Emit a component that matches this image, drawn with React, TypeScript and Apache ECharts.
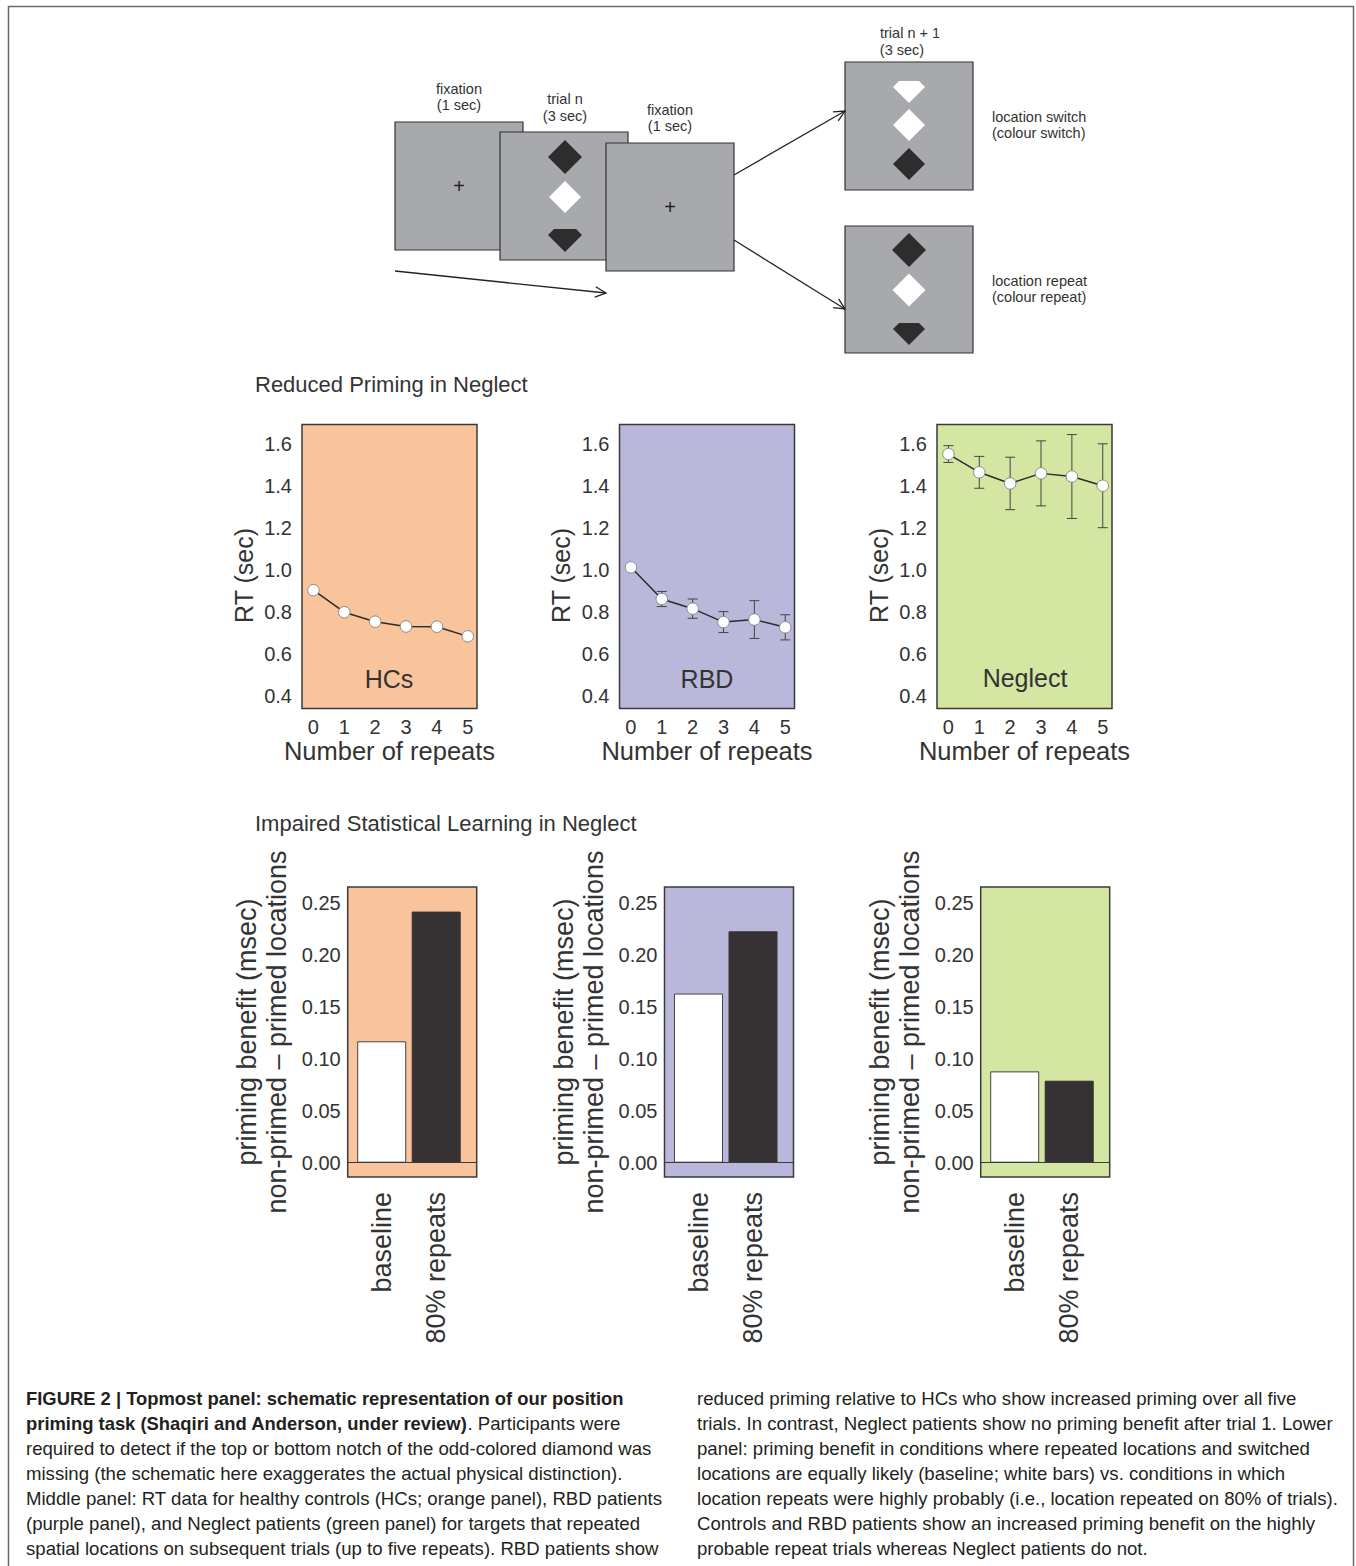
import React, { useEffect, useRef } from "react";
import * as echarts from "echarts";

// ---------------- data ----------------
const repeats = [0, 1, 2, 3, 4, 5];
const rtTicks = [0.4, 0.6, 0.8, 1.0, 1.2, 1.4, 1.6];
const groups = ["HCs", "RBD", "Neglect"];

const hcsRT = [0.905, 0.8, 0.755, 0.732, 0.731, 0.685];
const hcsErr = [0, 0, 0, 0, 0, 0];
const rbdRT = [1.014, 0.863, 0.817, 0.753, 0.765, 0.728];
const rbdErr = [0, 0.036, 0.046, 0.05, 0.09, 0.06];
const neglectRT = [1.554, 1.467, 1.414, 1.462, 1.447, 1.403];
const neglectErr = [0.04, 0.076, 0.125, 0.155, 0.2, 0.2];

const barCategories = ["baseline", "80% repeats"];
const benefitTicks = [0, 0.05, 0.1, 0.15, 0.2, 0.25];
const hcsBenefit = [0.117, 0.242];
const rbdBenefit = [0.163, 0.223];
const neglectBenefit = [0.088, 0.079];

const middleTitle = "Reduced Priming in Neglect";
const lowerTitle = "Impaired Statistical Learning in Neglect";
const rtAxisName = "RT (sec)";
const repeatsAxisName = "Number of repeats";
const benefitAxisName = "priming benefit (msec)\nnon-primed \u2013 primed locations";

const captionLeft: string[] = [
  "{b|FIGURE 2 | Topmost panel: schematic representation of our position}",
  "{b|priming task (Shaqiri and Anderson, under review)}{n|. Participants were}",
  "{n|required to detect if the top or bottom notch of the odd-colored diamond was}",
  "{n|missing (the schematic here exaggerates the actual physical distinction).}",
  "{n|Middle panel: RT data for healthy controls (HCs; orange panel), RBD patients}",
  "{n|(purple panel), and Neglect patients (green panel) for targets that repeated}",
  "{n|spatial locations on subsequent trials (up to five repeats). RBD patients show}",
];
const captionRight: string[] = [
  "reduced priming relative to HCs who show increased priming over all five",
  "trials. In contrast, Neglect patients show no priming benefit after trial 1. Lower",
  "panel: priming benefit in conditions where repeated locations and switched",
  "locations are equally likely (baseline; white bars) vs. conditions in which",
  "location repeats were highly probably (i.e., location repeated on 80% of trials).",
  "Controls and RBD patients show an increased priming benefit on the highly",
  "probable repeat trials whereas Neglect patients do not.",
];

// ---------------- styles / layout ----------------
const FONT = "'Liberation Sans', Arial, Helvetica, sans-serif";
const TXT = "#333333";
const panelColors = ["#F9C39B", "#B9B8DB", "#D4E6A1"];
const GRAY = "#A7A9AC";
const DARK = "#2E2C2D";

type Diamond = { cx: number; cy: number; h: number; cut?: number; fill: string };

function diamondPoints(d: Diamond): number[][] {
  const { cx, cy, h, cut } = d;
  if (cut === undefined) {
    return [
      [cx, cy - h],
      [cx + h, cy],
      [cx, cy + h],
      [cx - h, cy],
    ];
  }
  const w = h - cut;
  return [
    [cx - w, cy - cut],
    [cx + w, cy - cut],
    [cx + h, cy],
    [cx, cy + h],
    [cx - h, cy],
  ];
}

function arrow(x1: number, y1: number, x2: number, y2: number): any[] {
  const a = Math.atan2(y2 - y1, x2 - x1);
  const len = 12;
  const s = 0.45;
  const p1 = [x2 - len * Math.cos(a - s), y2 - len * Math.sin(a - s)];
  const p2 = [x2 - len * Math.cos(a + s), y2 - len * Math.sin(a + s)];
  return [
    { type: "line", shape: { x1, y1, x2, y2 }, style: { stroke: "#222", lineWidth: 1.3 } },
    { type: "polyline", shape: { points: [p1, [x2, y2], p2] }, style: { stroke: "#222", lineWidth: 1.3, fill: null } },
  ];
}

function schematic(): any[] {
  const els: any[] = [];
  const rects = [
    [395, 122, 128, 128],
    [500, 132, 128, 128],
    [606, 143, 128, 128],
    [845, 62, 128, 128],
    [845, 226, 128, 127],
  ];
  rects.forEach(([x, y, w, h]) =>
    els.push({ type: "rect", shape: { x, y, width: w, height: h }, style: { fill: GRAY, stroke: "#333", lineWidth: 1.2 } })
  );
  const diamonds: Diamond[] = [
    { cx: 565, cy: 157, h: 17, fill: DARK },
    { cx: 565, cy: 197, h: 16, fill: "#ffffff" },
    { cx: 565, cy: 235, h: 17, cut: 6, fill: DARK },
    { cx: 909, cy: 87, h: 16, cut: 6, fill: "#ffffff" },
    { cx: 909, cy: 125, h: 16, fill: "#ffffff" },
    { cx: 909, cy: 164, h: 16, fill: DARK },
    { cx: 909, cy: 250, h: 17, fill: DARK },
    { cx: 909, cy: 290, h: 16.5, fill: "#ffffff" },
    { cx: 909, cy: 329, h: 16, cut: 6, fill: DARK },
  ];
  diamonds.forEach((d) => els.push({ type: "polygon", shape: { points: diamondPoints(d) }, style: { fill: d.fill } }));
  [
    [459, 186],
    [670, 207],
  ].forEach(([x, y]) =>
    els.push({ type: "text", x, y, style: { text: "+", fontSize: 20, fontFamily: FONT, fill: "#222", align: "center", verticalAlign: "middle" } })
  );
  els.push(...arrow(395, 271, 606, 293));
  els.push(...arrow(734, 175, 845, 111));
  els.push(...arrow(734, 240, 845, 309));
  const labels: [string, number, number, string][] = [
    ["fixation", 459, 89, "center"],
    ["(1 sec)", 459, 105, "center"],
    ["trial n", 565, 99, "center"],
    ["(3 sec)", 565, 116, "center"],
    ["fixation", 670, 110, "center"],
    ["(1 sec)", 670, 126, "center"],
    ["trial n + 1", 910, 33, "center"],
    ["(3 sec)", 902, 50, "center"],
    ["location switch", 992, 117, "left"],
    ["(colour switch)", 992, 133, "left"],
    ["location repeat", 992, 281, "left"],
    ["(colour repeat)", 992, 297, "left"],
  ];
  labels.forEach(([t, x, y, al]) =>
    els.push({ type: "text", x, y, style: { text: t, fontSize: 14.5, fontFamily: FONT, fill: "#333", align: al, verticalAlign: "middle" } })
  );
  return els;
}

function buildOption(): any {
  const grid: any[] = [];
  const xAxis: any[] = [];
  const yAxis: any[] = [];
  const series: any[] = [];
  const graphic: any[] = [];

  const lineData = [
    { rt: hcsRT, err: hcsErr },
    { rt: rbdRT, err: rbdErr },
    { rt: neglectRT, err: neglectErr },
  ];
  const lineLefts = [302, 619.5, 937];
  const labelPos = [
    [389, 679],
    [707, 679],
    [1025, 678],
  ];

  lineData.forEach((g, i) => {
    grid.push({
      left: lineLefts[i], top: 424.5, width: 175, height: 284,
      show: true, backgroundColor: panelColors[i], borderColor: "#3a3a3a", borderWidth: 1.5,
      outerBoundsMode: "none",
    });
    xAxis.push({
      gridIndex: i, type: "value", min: -0.37, max: 5.3,
      axisLine: { show: false }, axisTick: { show: false }, splitLine: { show: false },
      axisLabel: { customValues: repeats, formatter: (v: number) => String(v), margin: 8, fontSize: 20, color: TXT, fontFamily: FONT },
      name: repeatsAxisName, nameLocation: "middle", nameGap: 29,
      nameTextStyle: { fontSize: 25.5, color: TXT, fontFamily: FONT },
    });
    yAxis.push({
      gridIndex: i, type: "value", min: 0.341, max: 1.695,
      axisLine: { show: false }, axisTick: { show: false }, splitLine: { show: false },
      axisLabel: { customValues: rtTicks, formatter: (v: number) => v.toFixed(1), margin: 10, fontSize: 20, color: TXT, fontFamily: FONT },
      name: rtAxisName, nameLocation: "middle", nameGap: 46,
      nameTextStyle: { fontSize: 25, color: TXT, fontFamily: FONT, padding: [0, 18, 0, 0] },
    });
    const errData = repeats
      .map((x, k) => [x, g.rt[k] - g.err[k], g.rt[k] + g.err[k], g.err[k]])
      .filter((d) => d[3] > 0);
    series.push({
      type: "custom", xAxisIndex: i, yAxisIndex: i, z: 2,
      data: errData,
      encode: { x: 0, y: [1, 2] },
      renderItem: (params: any, api: any) => {
        const x = api.value(0);
        const lo = api.coord([x, api.value(1)]);
        const hi = api.coord([x, api.value(2)]);
        const w = 5;
        const st = { stroke: "#444", lineWidth: 1 };
        return {
          type: "group",
          children: [
            { type: "line", shape: { x1: hi[0], y1: hi[1], x2: lo[0], y2: lo[1] }, style: st },
            { type: "line", shape: { x1: hi[0] - w, y1: hi[1], x2: hi[0] + w, y2: hi[1] }, style: st },
            { type: "line", shape: { x1: lo[0] - w, y1: lo[1], x2: lo[0] + w, y2: lo[1] }, style: st },
          ],
        };
      },
    });
    series.push({
      type: "line", xAxisIndex: i, yAxisIndex: i, z: 3,
      data: repeats.map((x, k) => [x, g.rt[k]]),
      symbol: "circle", symbolSize: 11.5,
      itemStyle: { color: "#ffffff", borderColor: "#8a8a8a", borderWidth: 1 },
      lineStyle: { color: "#2b2b2b", width: 1.5 },
    });
    graphic.push({
      type: "text", x: labelPos[i][0], y: labelPos[i][1],
      style: { text: groups[i], fontSize: 25, fontFamily: FONT, fill: TXT, align: "center", verticalAlign: "middle" },
      z: 10,
    });
  });

  const barData = [hcsBenefit, rbdBenefit, neglectBenefit];
  const barLefts = [347.7, 664.5, 980.7];
  barData.forEach((vals, j) => {
    const i = j + 3;
    grid.push({
      left: barLefts[j], top: 887, width: 129, height: 290,
      show: true, backgroundColor: panelColors[j], borderColor: "#3a3a3a", borderWidth: 1.5,
      outerBoundsMode: "none",
    });
    xAxis.push({
      gridIndex: i, type: "value", min: -0.624, max: 1.743,
      axisLine: { show: false }, axisTick: { show: false }, splitLine: { show: false },
      axisLabel: {
        customValues: [0, 1], formatter: (v: number) => barCategories[Math.round(v)],
        rotate: 90, margin: 15, fontSize: 27, color: TXT, fontFamily: FONT,
      },
    });
    yAxis.push({
      gridIndex: i, type: "value", min: -0.0138, max: 0.2657,
      axisLine: { show: false }, axisTick: { show: false }, splitLine: { show: false },
      axisLabel: { customValues: benefitTicks, formatter: (v: number) => v.toFixed(2), margin: 7, fontSize: 20, color: TXT, fontFamily: FONT },
      name: benefitAxisName, nameLocation: "middle", nameGap: 56,
      nameTextStyle: { fontSize: 27, lineHeight: 30, color: TXT, fontFamily: FONT },
    });
    series.push({
      type: "bar", xAxisIndex: i, yAxisIndex: i, barWidth: 49,
      data: [
        { value: [0, vals[0]], itemStyle: { color: "#ffffff", borderColor: "#444", borderWidth: 1 } },
        { value: [1, vals[1]], itemStyle: { color: "#363233", borderColor: "#363233", borderWidth: 1 } },
      ],
      markLine: {
        silent: true, symbol: ["none", "none"], label: { show: false },
        lineStyle: { color: "#3a3a3a", type: "solid", width: 1.2 },
        emphasis: { disabled: true },
        data: [{ yAxis: 0 }],
      },
    });
  });

  // frame
  graphic.push({ type: "rect", shape: { x: 8.5, y: 6.5, width: 1345, height: 1620 }, style: { fill: null, stroke: "#6a6a6a", lineWidth: 1.5 } });
  // titles
  graphic.push({ type: "text", x: 255, y: 384, style: { text: middleTitle, fontSize: 22, fontFamily: FONT, fill: TXT, align: "left", verticalAlign: "middle" } });
  graphic.push({ type: "text", x: 255, y: 823, style: { text: lowerTitle, fontSize: 22, fontFamily: FONT, fill: TXT, align: "left", verticalAlign: "middle" } });
  graphic.push(...schematic());

  // caption
  const capFont = 18.6;
  const rich = {
    b: { fontWeight: "bold", fontSize: 18.4, fontFamily: FONT, fill: "#231f20" },
    n: { fontWeight: "normal", fontSize: 18.6, fontFamily: FONT, fill: "#231f20" },
  };
  captionLeft.forEach((t, k) =>
    graphic.push({
      type: "text", x: 26, y: 1398 + k * 25,
      style: { text: t, rich, fontSize: capFont, fontFamily: FONT, fill: "#231f20", align: "left", verticalAlign: "middle" },
    })
  );
  captionRight.forEach((t, k) =>
    graphic.push({
      type: "text", x: 697, y: 1398 + k * 25,
      style: { text: t, fontSize: capFont, fontFamily: FONT, fill: "#231f20", align: "left", verticalAlign: "middle" },
    })
  );

  return {
    animation: false,
    backgroundColor: "#ffffff",
    textStyle: { fontFamily: FONT },
    grid, xAxis, yAxis, series,
    graphic: { elements: graphic },
  };
}

export default function App() {
  const ref = useRef<HTMLDivElement>(null);
  useEffect(() => {
    if (!ref.current) return;
    const chart = echarts.init(ref.current, undefined, { renderer: "svg" });
    chart.setOption(buildOption());
    return () => chart.dispose();
  }, []);
  return <div ref={ref} style={{ position: "absolute", left: 0, top: 0, width: 1356, height: 1566 }} />;
}
